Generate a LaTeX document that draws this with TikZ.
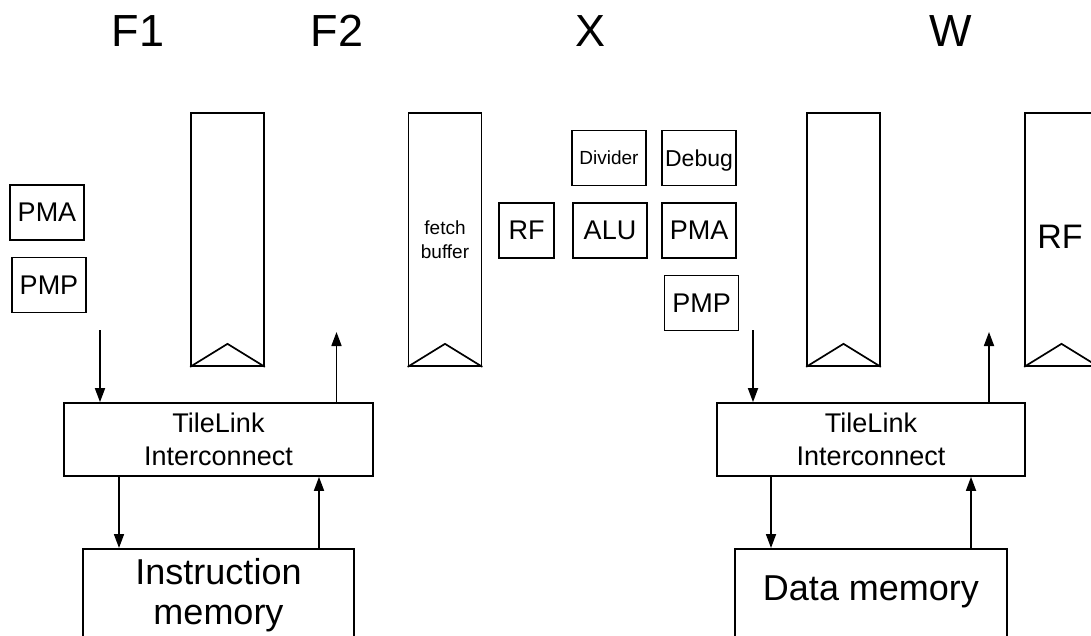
\documentclass[tikz,border=0pt]{standalone}
\usepackage{fontspec}
\setmainfont{Liberation Sans}
\usetikzlibrary{arrows.meta}
\tikzset{
  lw/.style={line width=1.7pt},
  box/.style={draw, lw, inner sep=0pt, minimum width=74pt, minimum height=55pt},
  regbox/.style={draw, lw, inner sep=0pt, minimum width=73pt, minimum height=253pt},
  bigbox/.style={draw, lw, inner sep=0pt},
  arr/.style={lw, -{Triangle[length=14pt,width=10pt]}},
  hdr/.style={font=\fontsize{45}{50}\selectfont, anchor=base, inner sep=0pt},
  fmid/.style={font=\fontsize{27}{33}\selectfont},
}
\newcommand{\regtri}[1]{\draw[lw] (#1.south west) -- ([yshift=23pt]#1.south) -- (#1.south east);}
\begin{document}
\begin{tikzpicture}[x=1pt,y=-1pt]
\clip (0,0) rectangle (1091,636);
\fill[white] (0,0) rectangle (1091,636);
% headers
\node[hdr] (hF1) at (138,47) {F1};
\node[hdr] (hF2) at (337,47) {F2};
\node[hdr] (hX) at (590,47) {X};
\node[hdr] (hW) at (951,47) {W};
% pipeline registers
\node[regbox] (r1) at (227.5,239.5) {};
\node[regbox, align=center, font=\fontsize{19}{24}\selectfont] (r2) at (445,239.5) {fetch\\buffer};
\node[regbox] (r3) at (843.5,239.5) {};
\node[regbox] (r4) at (1061.5,239.5) {};
\node[font=\fontsize{34}{40}\selectfont] (rfw) at (1060,237) {RF};
\regtri{r1}
\regtri{r2}
\regtri{r3}
\regtri{r4}
% small boxes
\node[box, fmid] (pmaL) at (47,212.5) {PMA};
\node[box, fmid] (pmpL) at (49,285) {PMP};
\node[box, font=\fontsize{19}{22}\selectfont] (div) at (609,158) {Divider};
\node[box, font=\fontsize{23}{26}\selectfont, text depth=0pt] (dbg) at (699,158) {Debug};
\node[box, fmid, minimum width=55pt] (rfx) at (526.5,230.5) {RF};
\node[box, fmid] (alu) at (610,230.5) {ALU};
\node[box, fmid] (pmaM) at (699,230.5) {PMA};
\node[box, fmid] (pmpM) at (701.5,303) {PMP};
% interconnects
\node[bigbox, fmid, align=center, minimum width=309pt, minimum height=73pt] (tlL) at (218.5,439.5) {TileLink\\Interconnect};
\node[bigbox, fmid, align=center, minimum width=308pt, minimum height=73pt] (tlR) at (871,439.5) {TileLink\\Interconnect};
% memories
\node[bigbox, minimum width=271pt, minimum height=100pt, anchor=north] (memI) at (218.5,548) {};
\node[font=\fontsize{36}{40}\selectfont, align=center] (memIt) at (218.5,595) {Instruction\\memory};
\node[bigbox, minimum width=272pt, minimum height=100pt, anchor=north] (memD) at (871,548) {};
\node[font=\fontsize{36}{40}\selectfont] (memDt) at (871,592) {Data memory};
% free ends
\coordinate (inL) at (100,330);
\coordinate (outL) at (336.5,332);
\coordinate (inR) at (753,330);
\coordinate (outR) at (989,332);
\coordinate (xa) at (119,0);
\coordinate (xb) at (319,0);
\coordinate (xc) at (771,0);
\coordinate (xd) at (971,0);
% arrows
\draw[arr] (inL) -- (inL |- tlL.north);
\draw[arr] (outL |- tlL.north) -- (outL);
\draw[arr] (inR) -- (inR |- tlR.north);
\draw[arr] (outR |- tlR.north) -- (outR);
\draw[arr] (tlL.south -| xa) -- (memI.north -| xa);
\draw[arr] (memI.north -| xb) -- (tlL.south -| xb);
\draw[arr] (tlR.south -| xc) -- (memD.north -| xc);
\draw[arr] (memD.north -| xd) -- (tlR.south -| xd);
\end{tikzpicture}
\end{document}
